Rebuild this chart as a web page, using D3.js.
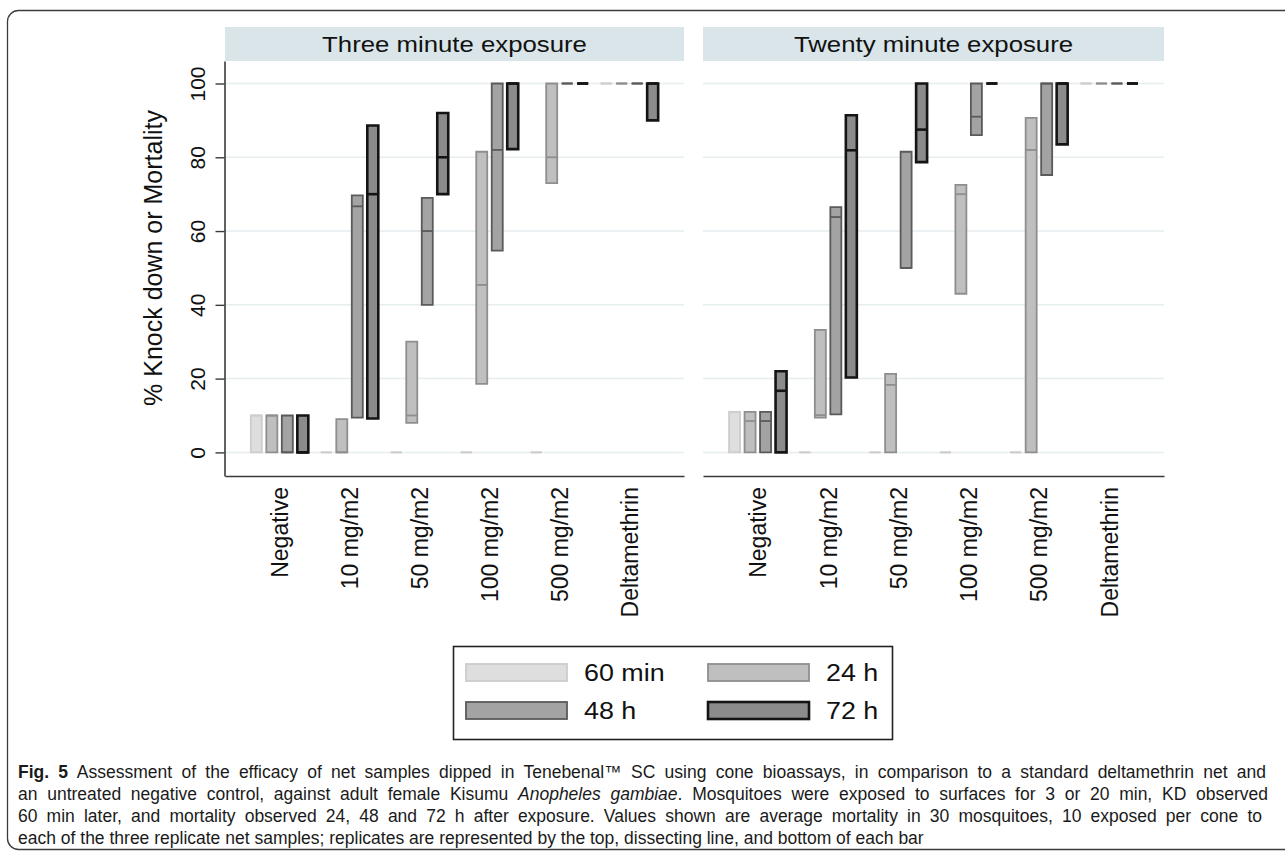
<!DOCTYPE html>
<html>
<head>
<meta charset="utf-8">
<script src="https://cdn.jsdelivr.net/npm/d3@7/dist/d3.min.js"></script>
<style>
  body { margin: 0; background: #fff; }
  svg text { font-family: "Liberation Sans", Arial, sans-serif; fill: #111; }
  .caption text { fill: #1a1a1a; }
</style>
</head>
<body>
<svg id="chart" width="1285" height="858"></svg>
<script>
// --- data -------------------------------------------------------------
const categories = ['Negative', '10 mg/m2', '50 mg/m2', '100 mg/m2', '500 mg/m2', 'Deltamethrin'];
const timepoints = ['60 min', '24 h', '48 h', '72 h'];
const panelTitles = ['Three minute exposure', 'Twenty minute exposure'];
const yTicks = [0, 20, 40, 60, 80, 100];

// replicates per category: [bottom, dissecting line, top]
const three60 = [[0, 10, 10], [0, 0, 0], [0, 0, 0], [0, 0, 0], [0, 0, 0], [100, 100, 100]];
const three24 = [[0, 10, 10], [0, 0, 9], [8, 10, 30], [18.6, 45.4, 81.5], [73, 80, 100], [100, 100, 100]];
const three48 = [[0, 0, 10], [9.4, 66.7, 69.7], [40, 60, 69], [54.7, 82, 100], [100, 100, 100], [100, 100, 100]];
const three72 = [[0, 0, 10], [9.2, 70, 88.6], [70, 80, 92], [82.2, 100, 100], [100, 100, 100], [90, 100, 100]];

const twenty60 = [[0, 11, 11], [0, 0, 0], [0, 0, 0], [0, 0, 0], [0, 0, 0], [100, 100, 100]];
const twenty24 = [[0, 8.5, 11], [9.4, 10.1, 33.2], [0, 18.3, 21.3], [43, 70, 72.5], [0, 82, 90.7], [100, 100, 100]];
const twenty48 = [[0, 8.5, 11], [10.3, 63.8, 66.5], [50, 50, 81.5], [86, 91, 100], [75.2, 100, 100], [100, 100, 100]];
const twenty72 = [[0, 16.7, 22], [20.3, 81.9, 91.4], [78.7, 87.5, 100], [100, 100, 100], [83.5, 100, 100], [100, 100, 100]];

const panelSeries = [
  [three60, three24, three48, three72],
  [twenty60, twenty24, twenty48, twenty72]
];

// --- styles & layout --------------------------------------------------
const fills = ['#dedede', '#bfbfbf', '#a3a3a3', '#8b8b8b'];
const strokes = ['#cdcdcd', '#8e8e8e', '#5a5a5a', '#141414'];
const strokeW = [1.8, 1.8, 1.8, 2.6];
const panelRange = [[225, 684], [703, 1164]];
const plotTop = 61, plotBottom = 476;
const axisColor = '#3a3a3a';
const gridColor = '#e6eef0';

const svg = d3.select('#chart');

// outer frame round the figure + caption
svg.append('rect')
  .attr('x', 7.5).attr('y', 10.5)
  .attr('width', 1300).attr('height', 839)
  .attr('rx', 11)
  .attr('fill', 'none')
  .attr('stroke', '#3c3c3c')
  .attr('stroke-width', 1.3);

const y = d3.scaleLinear().domain([-6.4, 106.1]).range([plotBottom, plotTop]);
const sub = d3.scaleBand().domain(timepoints).range([-31, 31]).paddingInner(0.29).paddingOuter(0.145);

panelSeries.forEach((series, p) => {
  const [x0, x1] = panelRange[p];
  const x = d3.scalePoint().domain(categories).range([x0, x1]).padding(0.78);
  const g = svg.append('g').attr('class', 'panel');

  // header strip
  g.append('rect')
    .attr('x', x0).attr('y', 27)
    .attr('width', x1 - x0).attr('height', 34)
    .attr('fill', '#d9e5e9');
  g.append('text')
    .attr('transform', `translate(${(x0 + x1) / 2},52) scale(1.12,1)`)
    .attr('text-anchor', 'middle')
    .attr('font-size', 23)
    .text(panelTitles[p]);

  // gridlines
  g.selectAll('.grid')
    .data(yTicks)
    .enter().append('line')
    .attr('class', 'grid')
    .attr('x1', x0).attr('x2', x1)
    .attr('y1', d => y(d)).attr('y2', d => y(d))
    .attr('stroke', gridColor)
    .attr('stroke-width', 1.5);

  // x axis with rotated category labels
  const xAxis = g.append('g')
    .attr('transform', `translate(0,${plotBottom})`)
    .call(d3.axisBottom(x).tickSize(0).tickSizeOuter(0));
  xAxis.select('.domain').attr('stroke', axisColor).attr('stroke-width', 1.6);
  xAxis.selectAll('text')
    .attr('font-size', 23)
    .attr('font-family', '"Liberation Sans", Arial, sans-serif')
    .attr('fill', '#111')
    .attr('transform', 'rotate(-90)')
    .attr('x', -11).attr('y', 8).attr('dy', 0)
    .style('text-anchor', 'end');

  // y axis only on the first panel
  if (p === 0) {
    const yAxis = g.append('g')
      .attr('transform', `translate(${x0 - 0.5},0)`)
      .call(d3.axisLeft(y).tickValues(yTicks).tickSize(9).tickSizeOuter(0));
    yAxis.select('.domain').attr('stroke', axisColor).attr('stroke-width', 1.6);
    yAxis.selectAll('.tick line').attr('stroke', axisColor).attr('stroke-width', 1.4);
    yAxis.selectAll('text')
      .attr('font-size', 21)
      .attr('font-family', '"Liberation Sans", Arial, sans-serif')
      .attr('fill', '#111')
      .attr('transform', 'rotate(-90)')
      .attr('x', 0).attr('y', -20).attr('dy', 0)
      .style('text-anchor', 'middle');
  }

  // floating bars: bottom to top replicate, line at the middle one
  series.forEach((vals, s) => {
    const tp = timepoints[s];
    const bars = g.selectAll(`.bar-${s}`)
      .data(vals.map((v, i) => ({ cat: categories[i], v })))
      .enter().append('g')
      .attr('class', `bar-${s}`);

    bars.append('path')
      .attr('d', d => {
        const path = d3.path();
        const bx = x(d.cat) + sub(tp);
        path.rect(bx, y(d.v[2]), sub.bandwidth(), y(d.v[0]) - y(d.v[2]));
        return path.toString();
      })
      .attr('fill', fills[s])
      .attr('stroke', strokes[s])
      .attr('stroke-width', strokeW[s]);

    bars.append('line')
      .attr('x1', d => x(d.cat) + sub(tp))
      .attr('x2', d => x(d.cat) + sub(tp) + sub.bandwidth())
      .attr('y1', d => y(d.v[1]))
      .attr('y2', d => y(d.v[1]))
      .attr('stroke', strokes[s])
      .attr('stroke-width', strokeW[s]);
  });
});

// y axis title
svg.append('text')
  .attr('transform', 'translate(162,258) rotate(-90)')
  .attr('text-anchor', 'middle')
  .attr('font-size', 25)
  .text('% Knock down or Mortality');

// legend
const legend = svg.append('g').attr('class', 'legend');
legend.append('rect')
  .attr('x', 453.5).attr('y', 646.5)
  .attr('width', 439).attr('height', 93)
  .attr('fill', '#fff')
  .attr('stroke', '#222')
  .attr('stroke-width', 1.6);

const items = legend.selectAll('.item')
  .data(timepoints)
  .enter().append('g')
  .attr('class', 'item')
  .attr('transform', (d, i) => `translate(${466 + (i % 2) * 242},${664 + Math.floor(i / 2) * 38})`);

items.append('rect')
  .attr('width', 101).attr('height', 17)
  .attr('fill', (d, i) => fills[i])
  .attr('stroke', (d, i) => strokes[i])
  .attr('stroke-width', (d, i) => strokeW[i]);

items.append('text')
  .attr('transform', 'translate(118,17) scale(1.12,1)')
  .attr('font-size', 24)
  .text(d => d);

// caption, justified like the journal text (last line left ragged)
const caption = svg.append('g')
  .attr('class', 'caption')
  .attr('font-size', 17.5);

const line1 = caption.append('text').attr('x', 18).attr('y', 778);
line1.append('tspan').attr('font-weight', 'bold').text('Fig. 5');
line1.append('tspan').text('\u2002Assessment of the efficacy of net samples dipped in Tenebenal\u2122 SC using cone bioassays, in comparison to a standard deltamethrin net and');

const line2 = caption.append('text').attr('x', 18).attr('y', 800);
line2.append('tspan').text('an untreated negative control, against adult female Kisumu ');
line2.append('tspan').attr('font-style', 'italic').text('Anopheles gambiae');
line2.append('tspan').text('. Mosquitoes were exposed to surfaces for 3 or 20 min, KD observed');

const line3 = caption.append('text').attr('x', 18).attr('y', 822)
  .text('60 min later, and mortality observed 24, 48 and 72 h after exposure. Values shown are average mortality in 30 mosquitoes, 10 exposed per cone to');

caption.append('text').attr('x', 18).attr('y', 844)
  .text('each of the three replicate net samples; replicates are represented by the top, dissecting line, and bottom of each bar');

[[line1, 1248], [line2, 1250], [line3, 1244]].forEach(([t, target]) => {
  const node = t.node();
  const natural = node.getComputedTextLength();
  const spaces = (node.textContent.match(/ /g) || []).length;
  if (natural < target) {
    t.attr('word-spacing', (target - natural) / spaces);
  } else {
    t.attr('textLength', target).attr('lengthAdjust', 'spacingAndGlyphs');
  }
});
</script>
</body>
</html>
